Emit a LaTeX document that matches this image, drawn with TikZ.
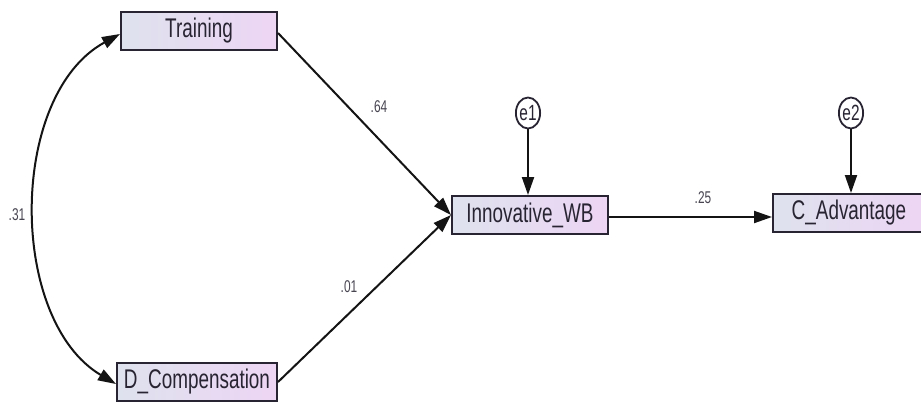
\documentclass[tikz,border=0pt]{standalone}
\usepackage{fontspec}
\setmainfont{Liberation Sans}[FakeStretch=0.7]
\usetikzlibrary{arrows.meta,shapes.geometric}
\definecolor{boxleft}{RGB}{222,226,238}
\definecolor{boxright}{RGB}{237,213,244}
\definecolor{ink}{RGB}{40,36,50}
\definecolor{wire}{RGB}{20,20,20}
\begin{document}
\begin{tikzpicture}[x=1pt,y=-1pt,
  varbox/.style={draw=ink, line width=2pt, left color=boxleft, right color=boxright,
    minimum height=38pt, inner sep=0pt, text=ink, font=\fontsize{27}{27}\selectfont},
  errvar/.style={draw=ink, line width=1.8pt, ellipse, fill=white, minimum width=21pt,
    minimum height=31pt, inner sep=0pt, text=ink, font=\fontsize{22}{22}\selectfont},
  regpath/.style={draw=wire, line width=2pt, -{Triangle[length=18pt,width=12pt]}},
  coef/.style={text=ink!85, font=\fontsize{17}{17}\selectfont, inner sep=0pt}]
  \clip (0,0) rectangle (921,402);
  \fill[white] (0,0) rectangle (921,402);

  % observed variables
  \node[varbox, minimum width=156pt] (T)  at (199,31)  {Training};
  \node[varbox, minimum width=160pt] (D)  at (197,382) {D\_Compensation};
  \node[varbox, minimum width=156pt] (I)  at (530,215) {Innovative\_WB};
  \node[varbox, minimum width=152pt] (CA) at (849,213) {C\_Advantage};

  % error terms
  \node[errvar] (e1) at (528,113) {e1};
  \node[errvar] (e2) at (851,113) {e2};

  % regression paths
  \draw[regpath] ([yshift=-2pt]T.east) -- (I.west);
  \draw[regpath] (D.east) -- (I.west);
  \draw[regpath] ([yshift=-2pt]I.east) -- ([yshift=-2pt]I.east -| CA.west);
  \draw[regpath] (e1.south) -- (e1.south |- I.north);
  \draw[regpath] (e2.south) -- (e2.south |- CA.north);

  % covariance between the exogenous variables
  \draw[draw=wire, line width=2pt, {Triangle[length=18pt,width=12pt]}-{Triangle[length=18pt,width=12pt]}]
    ([yshift=-3pt]T.west) .. controls (8,95) and (8,320) .. ([yshift=-2pt]D.west);

  % coefficients
  \node[coef] (c64) at (379,107) {.64};
  \node[coef] (c01) at (349,287) {.01};
  \node[coef] (c25) at (703,198) {.25};
  \node[coef] (c31) at (17,215)  {.31};
\end{tikzpicture}
\end{document}
